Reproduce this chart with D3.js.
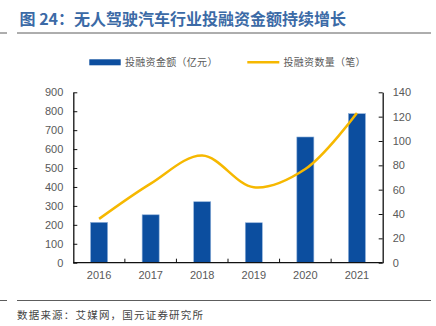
<!DOCTYPE html>
<html><head><meta charset="utf-8">
<script src="https://cdn.jsdelivr.net/npm/d3@7"></script>
<style>body{margin:0;background:#fff}svg{display:block}</style>
</head><body>
<svg id="c" width="436" height="326"></svg>
<script>
const years = ["2016","2017","2018","2019","2020","2021"];
const amount = [213, 253, 322, 211, 664, 787];
const deals = [36, 65, 88, 62, 77, 123];
const leftTicks = [0,100,200,300,400,500,600,700,800,900];
const rightTicks = [0,20,40,60,80,100,120,140];
const title = "图 24：无人驾驶汽车行业投融资金额持续增长";
const legendNames = ["投融资金额（亿元）", "投融资数量（笔）"];
const source = "数据来源：艾媒网，国元证券研究所";

const svg = d3.select("#c");
const font = "'Noto Sans CJK SC', sans-serif";
const L = 73.3, R = 382.7, T = 92.3, B = 262.7;

svg.append("text").attr("x", 19.5).attr("y", 24.5).attr("font-family", font)
  .attr("font-size", 16).attr("font-weight", "bold").attr("fill", "#3b6aa6").text(title);
svg.append("line").attr("x1",0).attr("x2",7).attr("y1",33).attr("y2",33).attr("stroke","#333").attr("stroke-width",0.8);
svg.append("line").attr("x1",17).attr("x2",431).attr("y1",33).attr("y2",33).attr("stroke","#333").attr("stroke-width",0.8);
svg.append("line").attr("x1",0).attr("x2",7).attr("y1",300.5).attr("y2",300.5).attr("stroke","#333").attr("stroke-width",0.8);
svg.append("line").attr("x1",17).attr("x2",431).attr("y1",300.5).attr("y2",300.5).attr("stroke","#333").attr("stroke-width",0.8);
svg.append("text").attr("x", 17).attr("y", 319).attr("font-family", font)
  .attr("font-size", 10.5).attr("letter-spacing", 1.2).attr("fill", "#444").text(source);

const x = d3.scaleBand().domain(years).range([L, R]).paddingInner(0.67).paddingOuter(0.335);
const yL = d3.scaleLinear().domain([0, 900]).range([B, T]);
const yR = d3.scaleLinear().domain([0, 140]).range([B, T]);

// bars
svg.append("g").selectAll("rect").data(years).join("rect")
  .attr("x", d => x(d)).attr("width", x.bandwidth())
  .attr("y", (d,i) => yL(amount[i])).attr("height", (d,i) => B - yL(amount[i]))
  .attr("fill", "#0c4e9f").attr("stroke", "#8fb0d9").attr("stroke-width", 0.6);

// line
const cx = d => x(d) + x.bandwidth()/2;
svg.append("path").datum(years)
  .attr("d", d3.line().x(d => cx(d)).y(d => yR(deals[years.indexOf(d)])).curve(d3.curveCatmullRom.alpha(0.5)))
  .attr("fill", "none").attr("stroke", "#f6b800").attr("stroke-width", 2.5);

// axes
const axStyle = g => {
  g.select(".domain").attr("stroke", "#111").attr("stroke-width", 1.3);
  g.selectAll(".tick line").attr("stroke", "#111").attr("stroke-width", 1);
  g.selectAll("text").attr("font-family", "'Liberation Sans', Arial, sans-serif").attr("font-size", 11).attr("fill", "#595959");
};
svg.append("g").attr("transform", `translate(${L},0)`)
  .call(d3.axisLeft(yL).tickValues(leftTicks).tickSizeInner(-4).tickSizeOuter(0).tickPadding(10))
  .call(axStyle);
svg.append("g").attr("transform", `translate(${R},0)`)
  .call(d3.axisRight(yR).tickValues(rightTicks).tickSizeInner(-4).tickSizeOuter(0).tickPadding(10))
  .call(axStyle);
const xa = svg.append("g").attr("transform", `translate(0,${B})`)
  .call(d3.axisBottom(x).tickSize(0).tickPadding(9)).call(axStyle);
xa.select(".domain").attr("d", `M${L},0H${R}`);
// boundary ticks (inward)
const step = x.step();
svg.append("g").selectAll("line").data(years.slice(1)).join("line")
  .attr("x1", d => x(d) - (step - x.bandwidth())/2).attr("x2", d => x(d) - (step - x.bandwidth())/2)
  .attr("y1", B).attr("y2", B - 4).attr("stroke", "#111").attr("stroke-width", 1);

// legend
const lg = svg.append("g");
lg.append("rect").attr("x", 89.3).attr("y", 59.3).attr("width", 31.4).attr("height", 6).attr("fill", "#0c4e9f");
lg.append("text").attr("x", 125).attr("y", 66).attr("font-family", font).attr("font-size", 10).attr("letter-spacing", 0.3).attr("fill", "#595959").text(legendNames[0]);
lg.append("line").attr("x1", 247.3).attr("x2", 279.3).attr("y1", 62.3).attr("y2", 62.3).attr("stroke", "#f6b800").attr("stroke-width", 2.5);
lg.append("text").attr("x", 283.5).attr("y", 66).attr("font-family", font).attr("font-size", 10).attr("letter-spacing", 0.3).attr("fill", "#595959").text(legendNames[1]);
</script>
</body></html>
